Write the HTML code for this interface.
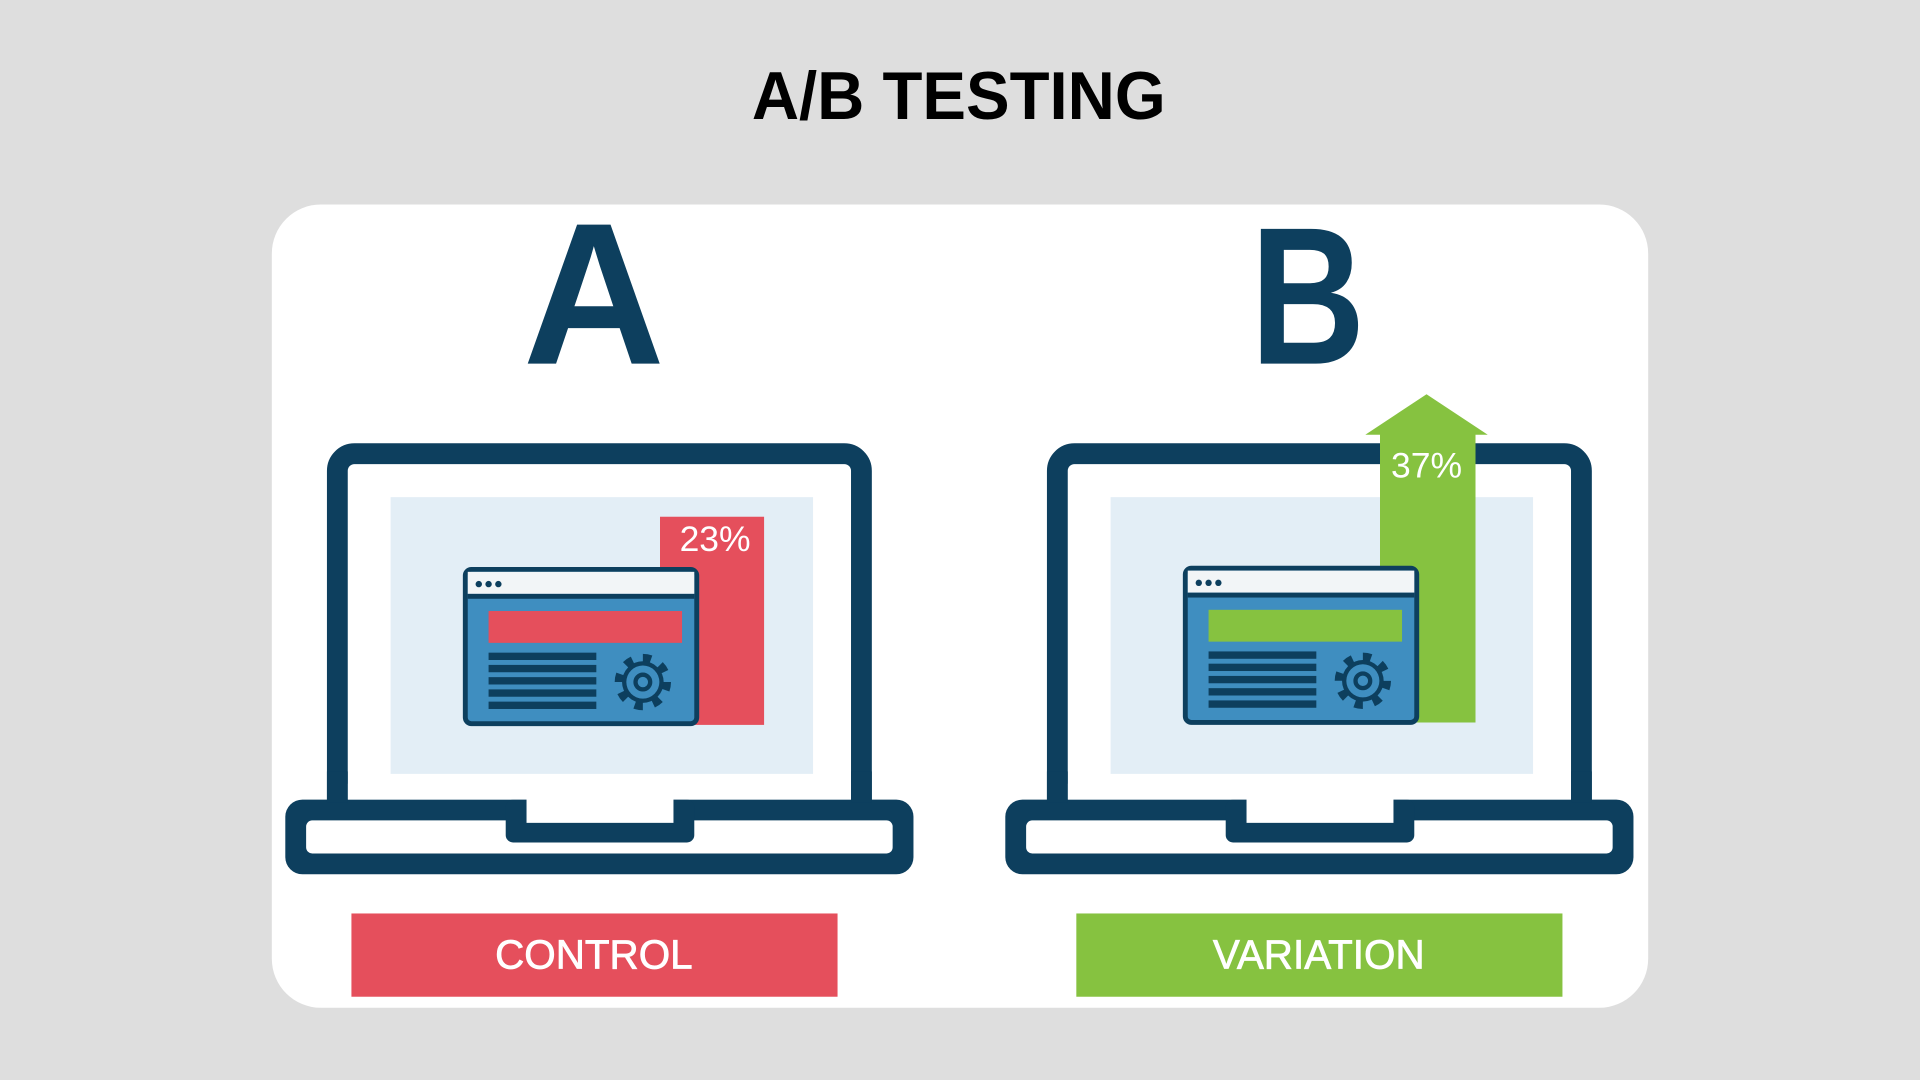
<!DOCTYPE html>
<html><head><meta charset="utf-8"><style>
html,body{margin:0;padding:0;background:#dedede;}
svg{display:block;}
text{font-family:"Liberation Sans",Arial,sans-serif;}
</style></head><body>
<svg width="1920" height="1080" viewBox="0 0 1568 882" xmlns="http://www.w3.org/2000/svg">
<defs>
<g id="gear">
  <circle r="19" fill="none" stroke="#0d3f5e" stroke-width="8" stroke-dasharray="6.5 8.4"/>
  <circle r="17" fill="#0d3f5e"/>
  <circle r="13.5" fill="#3f8ec0"/>
  <circle r="6" fill="none" stroke="#0d3f5e" stroke-width="3.5"/>
</g>
<g id="laptop">
  <rect x="275.5" y="370.5" width="428" height="300" rx="14" fill="#fff" stroke="#0d3f5e" stroke-width="17"/>
  <rect x="233" y="653" width="513" height="61" rx="14" fill="#0d3f5e"/>
  <rect x="250" y="670" width="479" height="27" rx="5" fill="#fff"/>
  <rect x="413" y="653" width="154" height="35" rx="6" fill="#0d3f5e"/>
  <rect x="430" y="650" width="120" height="22" fill="#fff"/>
  <rect x="284" y="640" width="411" height="13" fill="#fff"/>
  <rect x="267" y="630" width="17" height="25" fill="#0d3f5e"/>
  <rect x="695" y="630" width="17" height="25" fill="#0d3f5e"/>
  <rect x="319" y="406" width="345" height="226" fill="#e3eef6"/>
</g>
<g id="browser">
  <rect x="380" y="465" width="189" height="126" rx="5" fill="#3f8ec0" stroke="#0d3f5e" stroke-width="4"/>
  <rect x="382" y="467" width="185" height="18" fill="#f2f5f7"/>
  <rect x="382" y="485" width="185" height="4" fill="#0d3f5e"/>
  <circle cx="391" cy="477" r="2.6" fill="#0d3f5e"/>
  <circle cx="399" cy="477" r="2.6" fill="#0d3f5e"/>
  <circle cx="407" cy="477" r="2.6" fill="#0d3f5e"/>
  <rect x="399" y="533" width="88" height="6" fill="#0d3f5e"/>
  <rect x="399" y="543" width="88" height="6" fill="#0d3f5e"/>
  <rect x="399" y="553" width="88" height="6" fill="#0d3f5e"/>
  <rect x="399" y="563" width="88" height="6" fill="#0d3f5e"/>
  <rect x="399" y="573" width="88" height="6" fill="#0d3f5e"/>
  <use href="#gear" x="525" y="557"/>
</g>
</defs>
<rect width="1568" height="882" fill="#dedede"/>
<text x="783" y="97" text-anchor="middle" font-size="55" font-weight="bold" fill="#000" textLength="338" lengthAdjust="spacingAndGlyphs">A/B TESTING</text>
<rect x="222" y="167" width="1124" height="656" rx="40" fill="#fff"/>
<text x="485" y="297" text-anchor="middle" font-size="165" font-weight="bold" fill="#0d3f5e" textLength="116" lengthAdjust="spacingAndGlyphs">A</text>
<text x="1068" y="297" text-anchor="middle" font-size="160" font-weight="bold" fill="#0d3f5e" textLength="94" lengthAdjust="spacingAndGlyphs">B</text>

<use href="#laptop"/>
<rect x="539" y="422" width="85" height="170" fill="#e54f5c"/>
<text x="584" y="450" text-anchor="middle" font-size="29" fill="#fff">23%</text>
<use href="#browser"/>
<rect x="399" y="499" width="158" height="26" fill="#e54f5c"/>

<use href="#laptop" x="588"/>
<polygon points="1165,322 1215,355 1205,355 1205,590 1127,590 1127,355 1115,355" fill="#86c240"/>
<text x="1165" y="390" text-anchor="middle" font-size="29" fill="#fff">37%</text>
<use href="#browser" x="588" y="-1"/>
<rect x="987" y="498" width="158" height="26" fill="#86c240"/>

<rect x="287" y="746" width="397" height="68" fill="#e54f5c"/>
<text x="485" y="791" text-anchor="middle" font-size="33" fill="#fff" stroke="#fff" stroke-width="0.6">CONTROL</text>
<rect x="879" y="746" width="397" height="68" fill="#86c240"/>
<text x="1077" y="791" text-anchor="middle" font-size="33" fill="#fff" stroke="#fff" stroke-width="0.6">VARIATION</text>
</svg>
</body></html>
